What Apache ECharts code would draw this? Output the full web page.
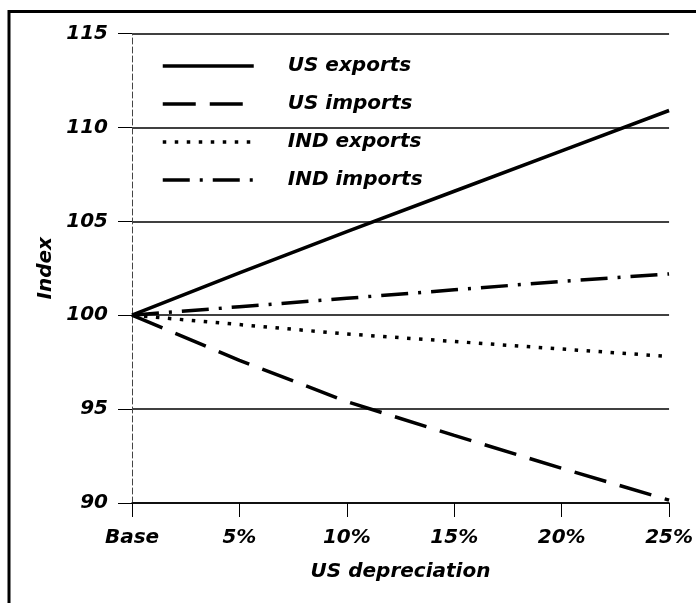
<!DOCTYPE html>
<html>
<head>
<meta charset="utf-8">
<script src="https://cdn.jsdelivr.net/npm/echarts@6/dist/echarts.min.js"></script>
<style>
  html, body { margin: 0; padding: 0; background: #fff; }
  #chart { width: 696px; height: 603px; }
</style>
</head>
<body>
<div id="chart"></div>
<script>
// ---- data ----
const categories = ['Base', '5%', '10%', '15%', '20%', '25%'];
const usExports  = [100, 102.25, 104.45, 106.6, 108.75, 110.9];
const usImports  = [100, 97.6, 95.4, 93.6, 91.85, 90.15];
const indExports = [100, 99.5, 99.0, 98.6, 98.2, 97.8];
const indImports = [100, 100.45, 100.9, 101.35, 101.8, 102.2];
const seriesNames = ['US exports', 'US imports', 'IND exports', 'IND imports'];

const FONT = 'DejaVu Sans';
const chart = echarts.init(document.getElementById('chart'), null, { renderer: 'canvas' });

function lineSeries(name, data, type, width) {
  return {
    name: name, type: 'line', data: data,
    symbol: 'none', smooth: false,
    lineStyle: { color: '#000', width: width, type: type, cap: 'butt' },
    itemStyle: { color: '#000' },
    z: 5
  };
}

chart.setOption({
  animation: false,
  backgroundColor: '#fff',
  graphic: [{
    type: 'rect', shape: { x: 9, y: 11.5, width: 720, height: 640 },
    style: { fill: 'none', stroke: '#000', lineWidth: 3 }, silent: true
  }],
  grid: { left: 132, right: 23, top: 33.5, bottom: 100, containLabel: false },
  legend: {
    orient: 'vertical', left: 156, top: 51,
    itemWidth: 91, itemHeight: 20, itemGap: 18,
    data: seriesNames,
    itemStyle: { opacity: 0 },
    lineStyle: { width: 3.5 },
    textStyle: { fontFamily: FONT, fontSize: 20, fontWeight: 'bold', fontStyle: 'italic', color: '#000', padding: [0, 0, 0, 29] }
  },
  xAxis: {
    type: 'category', data: categories, boundaryGap: false,
    name: 'US depreciation', nameLocation: 'middle', nameGap: 59,
    nameTextStyle: { fontFamily: FONT, fontSize: 20, fontWeight: 'bold', fontStyle: 'italic', color: '#000' },
    axisLine: { show: true, lineStyle: { color: '#000', width: 1.5 } },
    axisTick: { show: true, length: 14, lineStyle: { color: '#000', width: 1 } },
    axisLabel: { margin: 25, fontFamily: FONT, fontSize: 20, fontWeight: 'bold', fontStyle: 'italic', color: '#000' },
    splitLine: { show: false }
  },
  yAxis: {
    type: 'value', min: 90, max: 115, interval: 5,
    name: 'Index', nameLocation: 'middle', nameGap: 63,
    nameTextStyle: { fontFamily: FONT, fontSize: 20, fontWeight: 'bold', fontStyle: 'italic', color: '#000' },
    axisLine: { show: true, lineStyle: { color: '#444', width: 1, type: [6, 3] } },
    axisTick: { show: true, length: 14, lineStyle: { color: '#000', width: 1 } },
    axisLabel: { margin: 24, fontFamily: FONT, fontSize: 20, fontWeight: 'bold', fontStyle: 'italic', color: '#000' },
    splitLine: { show: true, lineStyle: { color: '#000', width: 1.5 } }
  },
  series: [
    lineSeries(seriesNames[0], usExports, 'solid', 3.5),
    lineSeries(seriesNames[1], usImports, [33, 14], 3.5),
    lineSeries(seriesNames[2], indExports, [3.5, 8.5], 3.5),
    lineSeries(seriesNames[3], indImports, [27, 10, 3, 10], 3.5)
  ]
});
</script>
</body>
</html>
